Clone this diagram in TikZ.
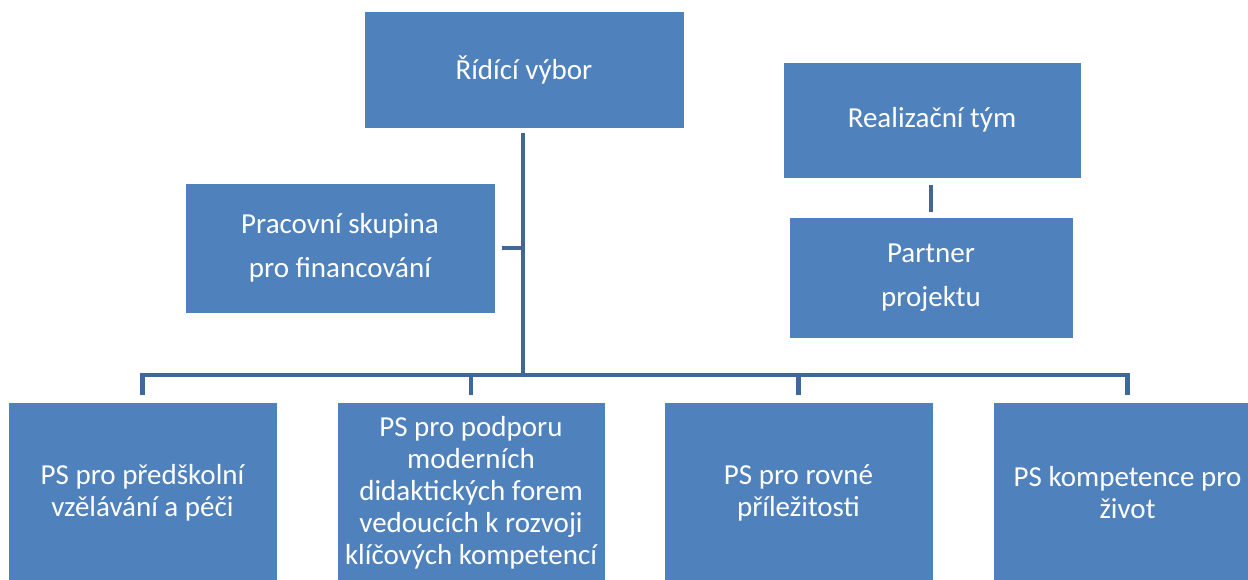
\documentclass[tikz,border=0pt]{standalone}
\usepackage{fontspec}
\setmainfont{Carlito}
\usetikzlibrary{calc}
\definecolor{boxblue}{HTML}{4F81BD}
\definecolor{lineblue}{HTML}{3F6898}
\tikzset{
  orgbox/.style={fill=boxblue, draw=white, line width=0.6pt, text=white, align=center, inner sep=2pt},
  topfont/.style={font=\fontsize{29}{44}\selectfont},
  lowfont/.style={font=\fontsize{29}{32}\selectfont},
  conn/.style={draw=lineblue, line width=4.5pt, line join=miter, line cap=butt}
}
\begin{document}
\begin{tikzpicture}[x=1pt, y=-1pt]
\useasboundingbox (0,0) rectangle (1248,579);
\clip (0,0) rectangle (1248,579);
\node[orgbox, topfont, minimum width=320pt, minimum height=117pt] (rv) at (524,69.5) {Řídící výbor};
\node[orgbox, topfont, minimum width=298pt, minimum height=116pt] (rt) at (932,120) {Realizační tým};
\node[orgbox, topfont, minimum width=310pt, minimum height=130pt] (pf) at (340,248) {Pracovní skupina\\pro financování};
\node[orgbox, topfont, minimum width=284pt, minimum height=121pt] (pp) at (931,277.5) {Partner\\projektu};
\node[orgbox, lowfont, minimum width=269pt, minimum height=182pt] (b1) at (142.5,493) {PS pro předškolní\\vzělávání a péči};
\node[orgbox, lowfont, minimum width=268pt, minimum height=182pt] (b2) at (471,493) {PS pro podporu\\moderních\\didaktických forem\\vedoucích k rozvoji\\klíčových kompetencí};
\node[orgbox, lowfont, minimum width=269pt, minimum height=182pt] (b3) at (798.5,493) {PS pro rovné\\příležitosti};
\node[orgbox, lowfont, minimum width=269pt, minimum height=182pt] (b4) at (1127.5,493) {PS kompetence pro\\život};
\coordinate (bus) at (523,375);
\draw[conn] ($(rv.south)+(-1,5)$) -- (bus);
\draw[conn] ($(b1.north)+(0,-7)$) -- (b1.north |- bus) -- (b4.north |- bus) -- ($(b4.north)+(0,-7)$);
\draw[conn] ($(b2.north)+(0,-7)$) -- (b2.north |- bus);
\draw[conn] ($(b3.north)+(0,-7)$) -- (b3.north |- bus);
\draw[conn] ($(pf.east)+(7,0)$) -- (pf.east -| bus);
\draw[conn, line width=4pt] ($(rt.south)+(-1,7)$) -- ($(pp.north)+(0,-5)$);
\end{tikzpicture}
\end{document}
